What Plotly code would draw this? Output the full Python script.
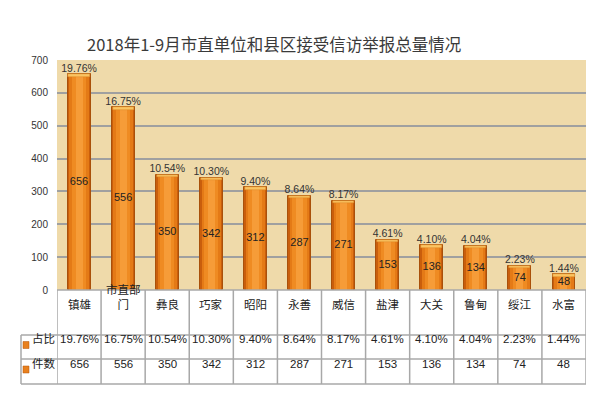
import plotly.graph_objects as go

categories = ["镇雄", "市直部门", "彝良", "巧家", "昭阳", "永善", "威信", "盐津", "大关", "鲁甸", "绥江", "水富"]
cat_labels = ["镇雄", "市直部<br>门", "彝良", "巧家", "昭阳", "永善", "威信", "盐津", "大关", "鲁甸", "绥江", "水富"]
counts = [656, 556, 350, 342, 312, 287, 271, 153, 136, 134, 74, 48]
shares = ["19.76%", "16.75%", "10.54%", "10.30%", "9.40%", "8.64%", "8.17%", "4.61%", "4.10%", "4.04%", "2.23%", "1.44%"]
y_ticks = [0, 100, 200, 300, 400, 500, 600, 700]
title_text = "2018年1-9月市直单位和县区接受信访举报总量情况"

FONT = "Liberation Sans, Noto Sans CJK SC, sans-serif"
x = list(range(len(categories)))

OFF = 8  # page body margin
# plot area in reference pixels
L, R, T, B = 57, 586, 60, 290
W, H = 600 - OFF, 394 - OFF
PH = B - T
PW = R - L

def py(p):  # reference pixel y -> paper y
    return (B - p) / PH

def px(p):  # reference pixel x -> paper x
    return (p - L) / PW

fig = go.Figure()
# layered bars to simulate cylindrical gradient
for w, col, lw in [(0.52, "#C95E0C", 1), (0.44, "#E47A16", 0), (0.32, "#EF8B22", 0), (0.16, "#F69C38", 0)]:
    fig.add_trace(go.Bar(x=x, y=counts, width=w, marker=dict(color=col, line=dict(color="#A9500A", width=lw)),
                         hoverinfo="skip", showlegend=False))
# top cap highlight
cap = [7] * len(counts)
fig.add_trace(go.Bar(x=x, y=cap, base=[c - 7 for c in counts], width=0.48,
                     marker=dict(color="#FBC462", line=dict(color="#D88A2A", width=0.5)),
                     hoverinfo="skip", showlegend=False))
# values inside bars
fig.add_trace(go.Scatter(x=x, y=[c / 2 for c in counts], mode="text", text=[str(c) for c in counts],
                         textfont=dict(family=FONT, size=11, color="#222"), hoverinfo="skip", showlegend=False))
# percentages above bars
fig.add_trace(go.Scatter(x=x, y=counts, mode="text", text=shares, textposition="top center",
                         textfont=dict(family=FONT, size=10.5, color="#333"), hoverinfo="skip", showlegend=False))

shapes = []
line_col = "#A8A8A8"
# table horizontal lines
shapes.append(dict(type="line", xref="paper", yref="paper", x0=0, x1=1, y0=0, y1=0,
                   line=dict(color=line_col, width=1.5)))
for p in [335, 359, 384]:
    shapes.append(dict(type="line", xref="paper", yref="paper", x0=px(21), x1=1, y0=py(p), y1=py(p),
                       line=dict(color=line_col, width=1.5)))
# table vertical lines
for i in range(len(categories) + 1):
    shapes.append(dict(type="line", xref="x", yref="paper", x0=i - 0.5, x1=i - 0.5, y0=0, y1=py(384),
                       line=dict(color=line_col, width=1.5)))
shapes.append(dict(type="line", xref="paper", yref="paper", x0=px(21), x1=px(21), y0=py(335), y1=py(384),
                   line=dict(color=line_col, width=1.5)))
# legend swatches
for p in [345, 369.5]:
    shapes.append(dict(type="rect", xref="paper", yref="paper", x0=px(23), x1=px(29), y0=py(p + 3.5), y1=py(p - 3.5),
                       fillcolor="#E8801E", line=dict(color="#B4540A", width=0.5)))

ann = []
for i in x:
    ann.append(dict(x=i, y=py(312.5), xref="x", yref="paper", text=cat_labels[i], showarrow=False,
                    font=dict(family=FONT, size=11.5, color="#222")))
    ann.append(dict(x=i, y=py(347), xref="x", yref="paper", text=shares[i], showarrow=False,
                    font=dict(family=FONT, size=11.5, color="#222")))
    ann.append(dict(x=i, y=py(371.5), xref="x", yref="paper", text=str(counts[i]), showarrow=False,
                    font=dict(family=FONT, size=11.5, color="#222")))
for p, t in [(347, "占比"), (371.5, "件数")]:
    ann.append(dict(x=px(30), y=py(p), xref="paper", yref="paper", text=t, showarrow=False, xanchor="left",
                    font=dict(family=FONT, size=11.5, color="#222")))
ann.append(dict(x=px(274), y=py(30), xref="paper", yref="paper", text=title_text, showarrow=False,
                font=dict(family="Noto Sans CJK SC, sans-serif", size=16.5, color="#3a3a3a")))

fig.update_layout(
    width=W, height=H,
    margin=dict(l=L - OFF, r=600 - R, t=T - OFF, b=394 - B, pad=0),
    paper_bgcolor="white", plot_bgcolor="#EFDAAA",
    barmode="overlay", bargap=0,
    shapes=shapes, annotations=ann,
    xaxis=dict(range=[-0.5, 11.5], showticklabels=False, showgrid=False, zeroline=False,
               showline=False, ticks=""),
    yaxis=dict(range=[0, 700], tickvals=y_ticks, showgrid=True, gridcolor="#A0A0A0", gridwidth=1.5,
               zeroline=False, showline=False, ticks="", ticklabelstandoff=8,
               tickfont=dict(family=FONT, size=10, color="#333")),
)
fig.write_html("out.html")
